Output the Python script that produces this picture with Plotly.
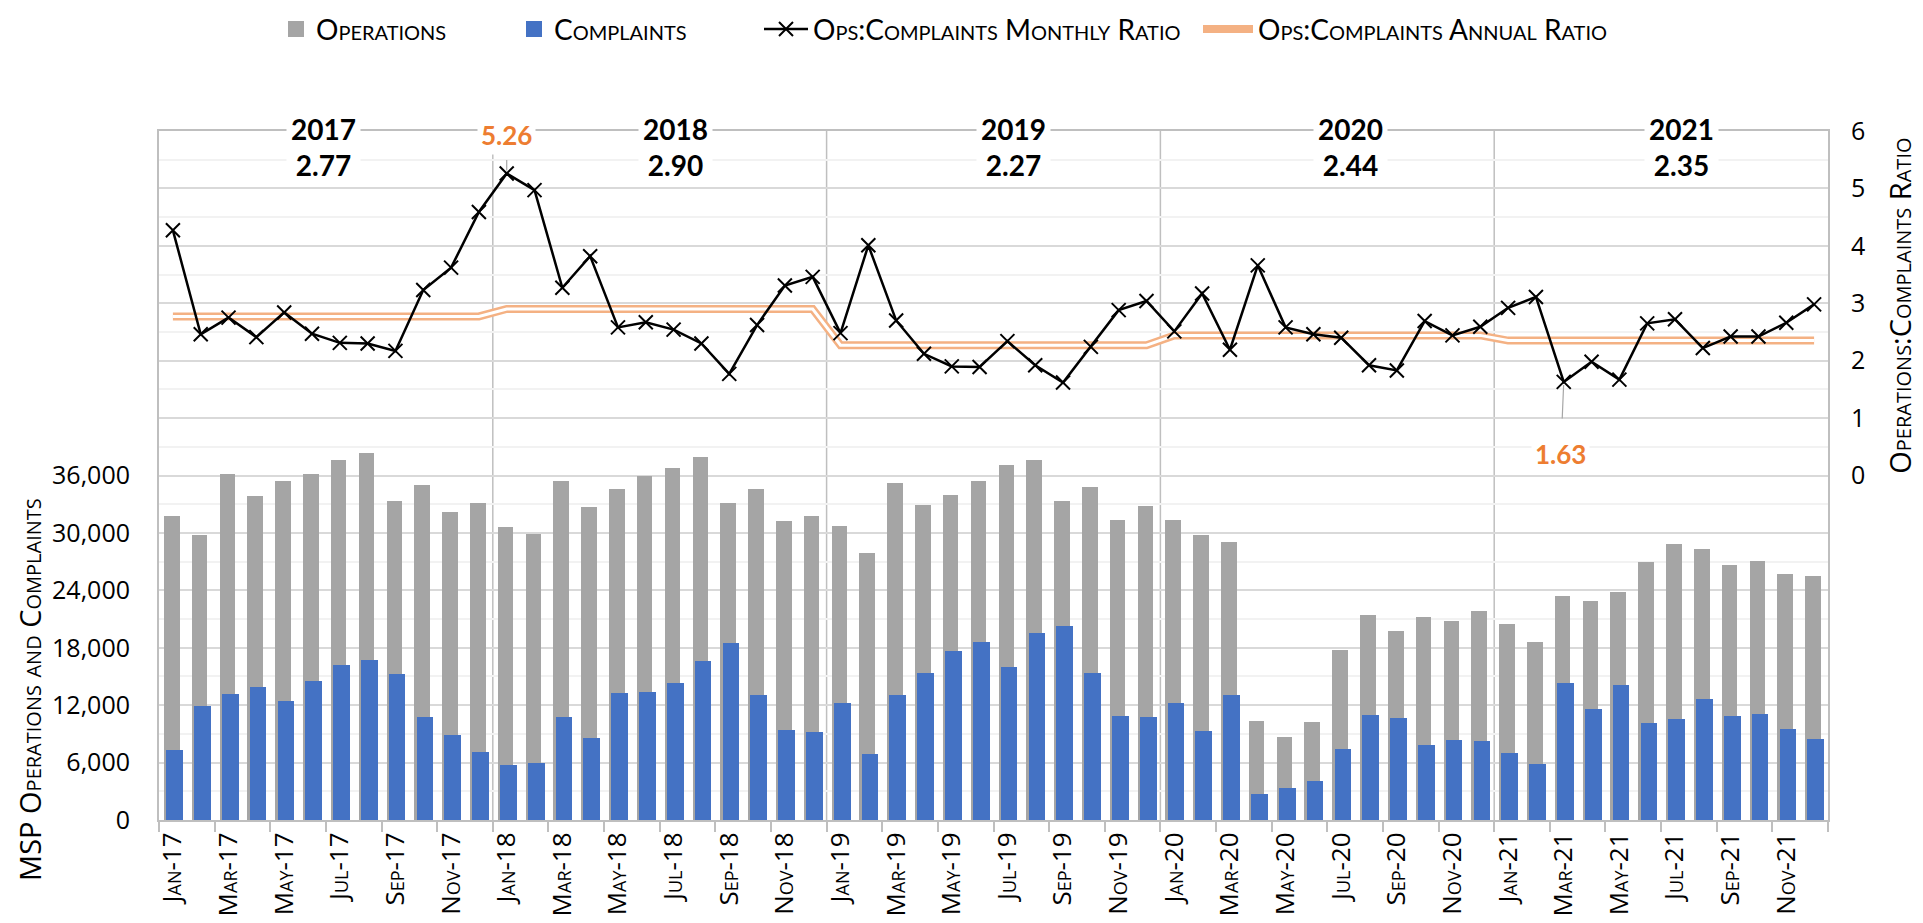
import plotly.graph_objects as go

# ---- data ----
years = ["17", "18", "19", "20", "21"]
month_names = ["Jan", "Feb", "Mar", "Apr", "May", "Jun",
               "Jul", "Aug", "Sep", "Oct", "Nov", "Dec"]
months = [f"{m}-{y}" for y in years for m in month_names]

operations = [
    31800, 29800, 36200, 33900, 35400, 36200, 37600, 38400, 33300, 35000, 32200, 33100,
    30600, 29900, 35400, 32750, 34600, 35950, 36750, 37900, 33100, 34550, 31250, 31750,
    30700, 27900, 35250, 32950, 33950, 35400, 37050, 37650, 33300, 34750, 31350, 32800,
    31300, 29750, 29000, 10300, 8700, 10250, 17800, 21400, 19750, 21250, 20800, 21800,
    20500, 18650, 23400, 22900, 23850, 26950, 28850, 28350, 26700, 27100, 25700, 25550,
]
complaints = [
    7350, 11900, 13150, 13850, 12450, 14550, 16250, 16700, 15250, 10750, 8850, 7100,
    5750, 5950, 10750, 8550, 13250, 13400, 14350, 16600, 18450, 13050, 9400, 9150,
    12200, 6850, 13050, 15400, 17650, 18650, 16000, 19500, 20300, 15400, 10900, 10800,
    12250, 9350, 13050, 2750, 3300, 4100, 7400, 11000, 10650, 7850, 8400, 8300,
    6950, 5900, 14300, 11550, 14100, 10150, 10600, 12600, 10900, 11100, 9550, 8500,
]
monthly_ratio = [
    4.27, 2.46, 2.75, 2.41, 2.84, 2.47, 2.31, 2.30, 2.17, 3.23, 3.62, 4.59,
    5.26, 4.97, 3.27, 3.82, 2.58, 2.67, 2.54, 2.30, 1.77, 2.62, 3.31, 3.46,
    2.48, 4.01, 2.70, 2.12, 1.90, 1.89, 2.34, 1.92, 1.62, 2.24, 2.88, 3.04,
    2.51, 3.17, 2.19, 3.66, 2.58, 2.46, 2.40, 1.92, 1.83, 2.69, 2.44, 2.59,
    2.92, 3.11, 1.63, 1.98, 1.67, 2.65, 2.72, 2.22, 2.42, 2.42, 2.66, 2.98,
]
year_titles = ["2017", "2018", "2019", "2020", "2021"]
annual_ratio = [2.77, 2.90, 2.27, 2.44, 2.35]
callouts = ["Jan-18", "Mar-21"]

GREY = "#A5A5A5"
BLUE = "#4472C4"
ORANGE = "#ED7D31"
ANNUAL = "#F4B183"
GRID = "#D9D9D9"
GRID_MINOR = "#F2F2F2"
AXIS = "#BFBFBF"

SMALLCAPS = dict(family="Open Sans", color="black", variant="small-caps")
LEGEND_FONT = dict(family="Lato", size=28, color="black", variant="small-caps")

annual_by_month = [r for r in annual_ratio for _ in month_names]

fig = go.Figure()

fig.add_trace(go.Bar(
    x=months, y=operations, name="Operations", showlegend=False,
    marker=dict(color=GREY, line=dict(width=0)), width=0.56, offset=-0.32,
))
fig.add_trace(go.Bar(
    x=months, y=complaints, name="Complaints", showlegend=False,
    marker=dict(color=BLUE, line=dict(width=0)), width=0.6, offset=-0.24,
))

# annual ratio: orange outline with a white core
fig.add_trace(go.Scatter(
    x=months, y=annual_by_month, yaxis="y2", mode="lines",
    name="Ops:Complaints Annual Ratio", legend="legend4",
    line=dict(color=ANNUAL, width=8),
))
fig.add_trace(go.Scatter(
    x=months, y=annual_by_month, yaxis="y2", mode="lines",
    line=dict(color="white", width=3), showlegend=False, hoverinfo="skip",
))

fig.add_trace(go.Scatter(
    x=months, y=monthly_ratio, yaxis="y2", mode="lines+markers",
    name="Ops:Complaints Monthly Ratio", legend="legend3",
    line=dict(color="black", width=2.5),
    marker=dict(symbol="x-thin", size=14, line=dict(color="black", width=2)),
))

# bigger square swatches for the bar series
for name, color, leg in [("Operations", GREY, "legend"), ("Complaints", BLUE, "legend2")]:
    fig.add_trace(go.Scatter(
        x=[None], y=[None], mode="markers", name=name, legend=leg,
        marker=dict(symbol="square", size=16, color=color),
    ))

# year separators on category boundaries
for i in range(1, len(years)):
    fig.add_shape(type="line", xref="x", yref="paper",
                  x0=i * 12 - 0.5, x1=i * 12 - 0.5, y0=0, y1=1,
                  line=dict(color=AXIS, width=1.5), layer="below")

annotations = []

# year titles with annual ratio
year_x = [5.43, 18.08, 30.23, 42.35, 54.24]
for title, ratio, xpos in zip(year_titles, annual_ratio, year_x):
    annotations.append(dict(
        x=xpos, y=5.73, xref="x", yref="y2", showarrow=False,
        text=f"<b>{title}</b><br><b>{ratio:.2f}</b>",
        font=dict(family="Lato", size=28, color="black"),
        bgcolor="white", borderpad=4,
    ))

# min / max call-outs with leader lines
offsets = {"Jan-18": (0, -38, 5), "Mar-21": (-3, 72, 16)}
for m in callouts:
    v = monthly_ratio[months.index(m)]
    ax, ay, gap = offsets[m]
    annotations.append(dict(
        x=m, y=v, xref="x", yref="y2", text=f"<b>{v:.2f}</b>",
        showarrow=True, arrowhead=0, arrowwidth=1.2, arrowcolor="#A6A6A6",
        ax=ax, ay=ay, standoff=3, startstandoff=gap,
        font=dict(family="Lato", size=26, color=ORANGE),
        bgcolor="white", borderpad=3,
    ))

# axis titles
annotations.append(dict(
    text="MSP Operations and Complaints", textangle=-90,
    xref="paper", yref="paper", x=-0.078, y=0.19,
    xanchor="center", yanchor="middle", showarrow=False,
    font=dict(SMALLCAPS, size=29),
))
annotations.append(dict(
    text="Operations:Complaints Ratio", textangle=-90,
    xref="paper", yref="paper", x=1.0432, y=0.7465,
    xanchor="center", yanchor="middle", showarrow=False,
    font=dict(SMALLCAPS, size=29),
))


def legend_box(x0, itemwidth=30):
    return dict(
        orientation="h", xref="container", yref="container",
        x=x0 / 1923, xanchor="left", y=0.977, yanchor="middle",
        font=LEGEND_FONT, itemwidth=itemwidth, bgcolor="rgba(0,0,0,0)",
        borderwidth=0,
    )


left_vals = list(range(0, 72001, 6000))
left_text = [f"{v:,}" if v <= 36000 else "" for v in left_vals]

fig.update_layout(
    width=1923, height=923,
    margin=dict(l=151, r=103, t=123, b=111, autoexpand=False),
    plot_bgcolor="white", paper_bgcolor="white",
    barmode="overlay", bargap=0,
    font=dict(family="Open Sans", size=24, color="black"),
    showlegend=True,
    legend=legend_box(268),
    legend2=legend_box(506),
    legend3=legend_box(751, 44),
    legend4=legend_box(1190, 50),
    xaxis=dict(
        type="category", tickmode="linear", tick0=0, dtick=2,
        tickson="boundaries", ticks="outside", ticklen=10, tickwidth=1.5,
        tickcolor=AXIS, tickangle=-90, tickfont=dict(SMALLCAPS, size=26),
        showline=True, linecolor=AXIS, linewidth=2, mirror=True,
        showgrid=False, range=[-0.5, 59.5], automargin=False,
    ),
    yaxis=dict(
        range=[0, 72000], tickmode="array", tickvals=left_vals, ticktext=left_text,
        showgrid=True, gridcolor=GRID, gridwidth=1.5,
        minor=dict(tickmode="linear", tick0=0, dtick=3000, showgrid=True,
                   gridcolor=GRID_MINOR, gridwidth=1.5),
        showline=True, linecolor=AXIS, linewidth=2, mirror=True,
        ticks="", tickfont=dict(family="Open Sans", size=25, color="black"),
        ticklabelstandoff=22, zeroline=False, automargin=False,
    ),
    yaxis2=dict(
        range=[-6, 6], overlaying="y", side="right",
        tickmode="array", tickvals=[0, 1, 2, 3, 4, 5, 6],
        showgrid=False, zeroline=False, ticks="",
        tickfont=dict(family="Open Sans", size=25, color="black"),
        ticklabelstandoff=22, automargin=False,
    ),
    annotations=annotations,
)

fig.write_html("out.html")
